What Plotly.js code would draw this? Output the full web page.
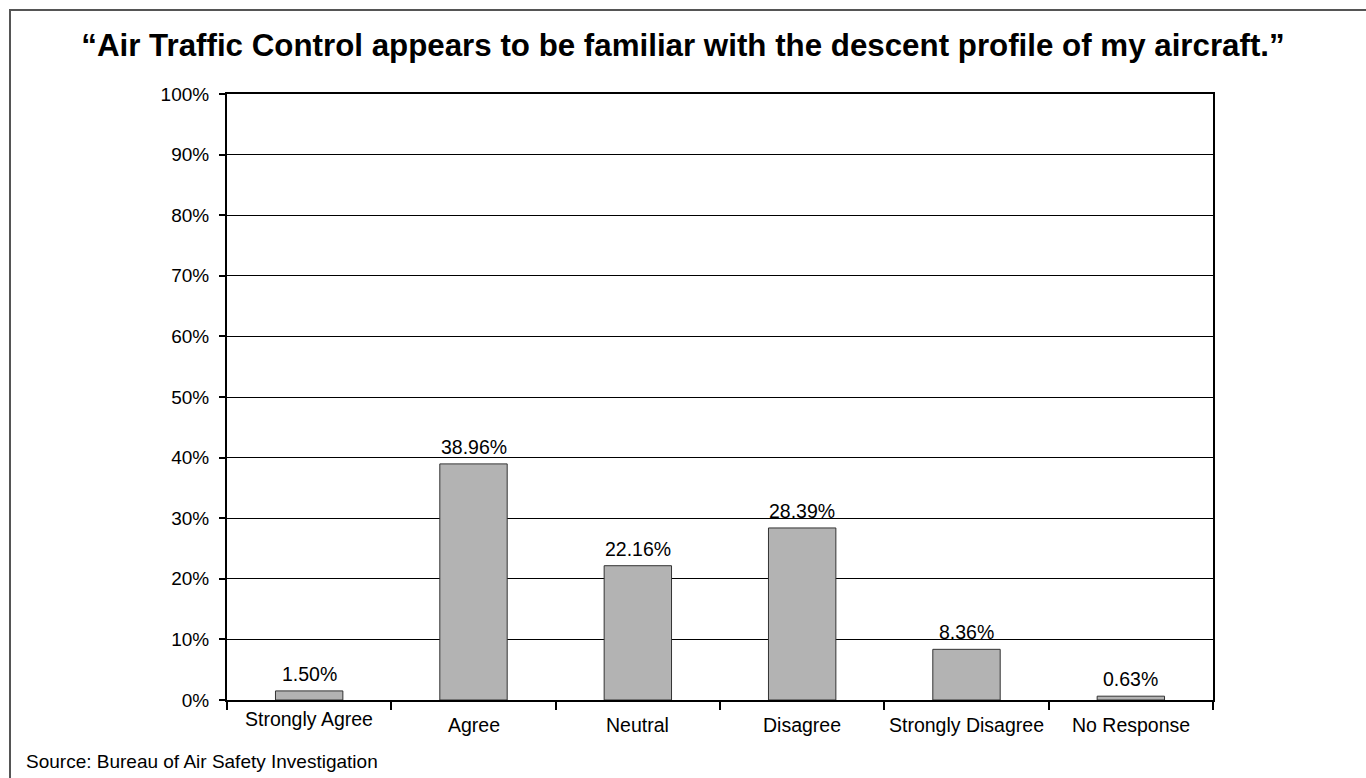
<!DOCTYPE html>
<html>
<head>
<meta charset="utf-8">
<script src="https://cdn.plot.ly/plotly-3.0.1.min.js"></script>
<style>
html,body{margin:0;padding:0;background:#fff;}
#wrap{position:relative;width:1366px;height:778px;overflow:hidden;}
#chart{width:1366px;height:778px;}
#frame{position:absolute;left:9px;top:9px;width:1400px;height:800px;border-left:2px solid #555;border-top:2px solid #555;pointer-events:none;}
</style>
</head>
<body>
<div id="wrap">
<div id="chart"></div>
<div id="frame"></div>
</div>
<script>
const categories = ["Strongly Agree", "Agree", "Neutral", "Disagree", "Strongly Disagree", "No Response"];
const percentages = [1.50, 38.96, 22.16, 28.39, 8.36, 0.63];
const yTickValues = [0, 10, 20, 30, 40, 50, 60, 70, 80, 90, 100];
const titleText = "\u201cAir Traffic Control appears to be familiar with the descent profile of my aircraft.\u201d";
const sourceText = "Source: Bureau of Air Safety Investigation";

const font = "Liberation Sans, Arial, sans-serif";

const trace = {
  type: "bar",
  x: categories,
  y: percentages,
  width: 0.41,
  marker: {color: "#b3b3b3", line: {color: "#333333", width: 1}},
  cliponaxis: false,
  hoverinfo: "skip"
};

const annotations = categories.map((c, i) => ({
  x: c, xref: "x", y: 0, yref: "paper",
  yshift: i === 0 ? -19 : -25,
  text: c, showarrow: false,
  font: {family: font, size: 19.5, color: "#000"},
  xanchor: "center", yanchor: "middle"
}));
categories.forEach((c, i) => {
  annotations.push({
    x: c, xref: "x", y: percentages[i], yref: "y",
    yanchor: "bottom", xanchor: "center", yshift: 4,
    text: percentages[i].toFixed(2) + "%", showarrow: false,
    font: {family: font, size: 19.5, color: "#000"}
  });
});
annotations.push({
  x: 0, xref: "paper", xanchor: "left",
  y: 0, yref: "paper", yanchor: "middle",
  xshift: -203, yshift: -61,
  text: sourceText, showarrow: false,
  font: {family: font, size: 19, color: "#000"}
});

const layout = {
  width: 1366, height: 778,
  margin: {l: 227, r: 153, t: 94, b: 78, pad: 0},
  paper_bgcolor: "#fff", plot_bgcolor: "#fff",
  showlegend: false,
  title: {
    text: "<b>" + titleText + "</b>",
    font: {family: font, size: 31.3, color: "#000"},
    x: 0.5, xref: "container", xanchor: "center",
    y: 1 - 45 / 778, yref: "container", yanchor: "middle"
  },
  xaxis: {
    type: "category",
    showline: true, linecolor: "#000", linewidth: 2,
    mirror: true,
    ticks: "outside", tickson: "boundaries", ticklen: 8, tickwidth: 2, tickcolor: "#000",
    showticklabels: false,
    showgrid: false, zeroline: false,
    fixedrange: true
  },
  yaxis: {
    range: [0, 100],
    tickvals: yTickValues,
    ticktext: yTickValues.map(v => v + "%"),
    showline: true, linecolor: "#000", linewidth: 2, mirror: true,
    ticks: "outside", ticklen: 6, tickwidth: 2, tickcolor: "#000",
    ticklabelstandoff: 6,
    tickfont: {family: font, size: 19, color: "#000"},
    showgrid: true, gridcolor: "#000", gridwidth: 1,
    zeroline: false,
    fixedrange: true
  },
  annotations: annotations,
  bargap: 0.59
};

Plotly.newPlot("chart", [trace], layout, {displayModeBar: false, staticPlot: true});
</script>
</body>
</html>
